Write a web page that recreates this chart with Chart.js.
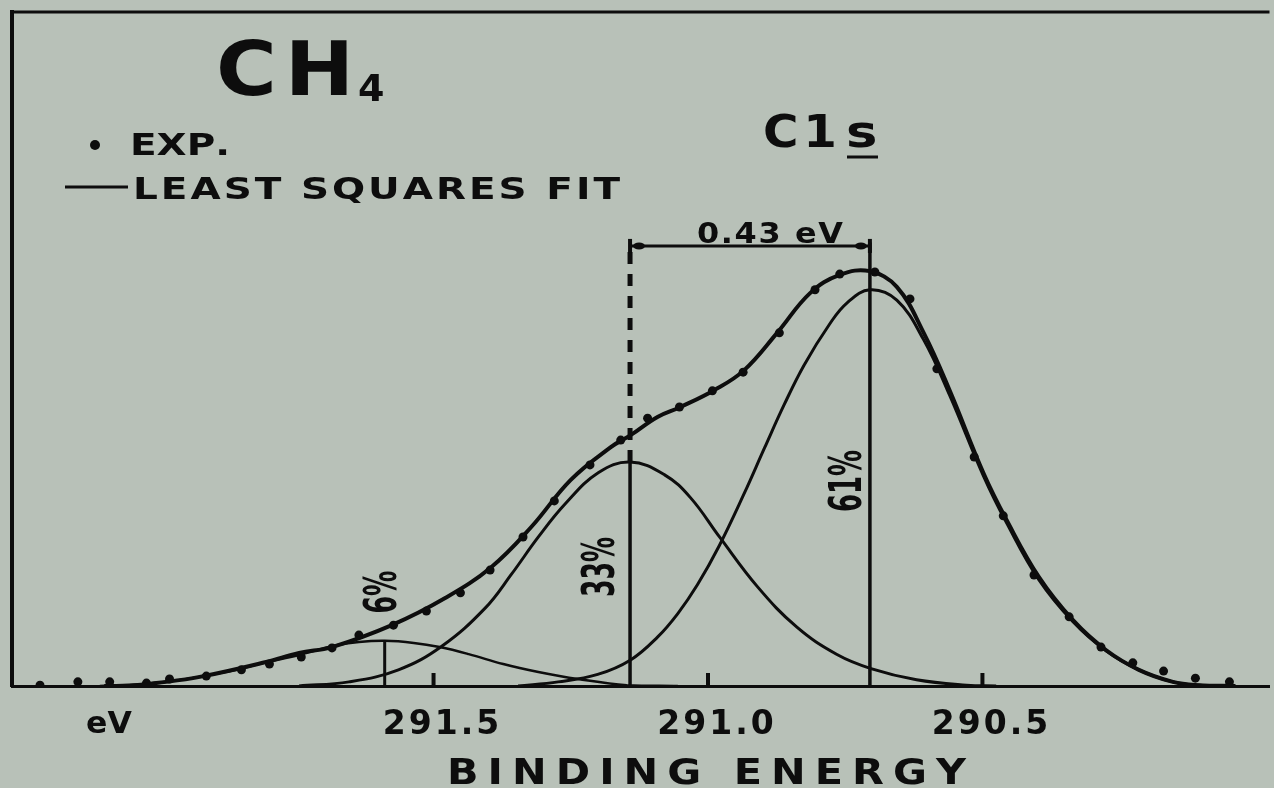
<!DOCTYPE html>
<html>
<head>
<meta charset="utf-8">
<script src="https://cdn.jsdelivr.net/npm/chart.js@4.4.1/dist/chart.umd.min.js"></script>
<style>
  html, body { margin: 0; padding: 0; background: #b8c1b8; }
  canvas { display: block; }
</style>
</head>
<body>
<canvas id="xpsChart" width="1274" height="788"></canvas>
<script>
// CH4 C1s photoelectron spectrum
// energies in eV, intensities relative to the top of the envelope (= 100)

var xTicks = [291.5, 291.0, 290.5];

// experimental points
var expEnergy = [292.217, 292.148, 292.090, 292.023, 291.981, 291.914, 291.850, 291.799,
  291.741, 291.685, 291.636, 291.573, 291.513, 291.451, 291.397, 291.337, 291.280,
  291.215, 291.159, 291.110, 291.052, 290.992, 290.936, 290.870, 290.805, 290.760,
  290.696, 290.632, 290.583, 290.515, 290.462, 290.406, 290.342, 290.284, 290.226,
  290.170, 290.112, 290.050];
var expCounts = [0.2, 1.0, 1.0, 0.7, 1.7, 2.4, 3.9, 5.3,
  7.0, 9.2, 12.3, 14.7, 18.1, 22.5, 28.0, 36.0, 44.7,
  53.4, 59.4, 64.7, 67.4, 71.3, 75.8, 85.3, 95.7, 99.5,
  100.0, 93.5, 76.6, 55.3, 41.1, 26.8, 16.7, 9.4, 5.6,
  3.6, 1.9, 1.0];

// least squares fit, envelope
var fitEnergy = [292.100, 292.054, 292.005, 291.926, 291.805, 291.745, 291.685, 291.576,
  291.478, 291.395, 291.322, 291.250, 291.177, 291.141, 291.092, 291.050, 290.988,
  290.934, 290.874, 290.814, 290.760, 290.705, 290.656, 290.607, 290.560, 290.498,
  290.456, 290.397, 290.335, 290.275, 290.215, 290.153, 290.106, 290.039];
var fitCounts = [0, 0, 0.7, 2.2, 5.8, 8.0, 9.4, 14.7,
  21.3, 28.7, 38.4, 49.8, 57.7, 60.6, 65.0, 67.4, 71.5,
  76.3, 85.3, 94.9, 99.3, 100.2, 96.4, 85.3, 71.5, 51.4,
  40.1, 26.3, 15.9, 8.7, 3.9, 1.0, 0.2, 0];

// fit components
var p61Energy = [291.346, 291.273, 291.201, 291.141, 291.092, 291.055, 291.019, 290.979,
  290.934, 290.897, 290.861, 290.825, 290.778, 290.747, 290.705, 290.656, 290.607,
  290.560, 290.498, 290.456, 290.397, 290.335, 290.275, 290.215, 290.153, 290.093];
var p61Counts = [0, 1.0, 2.8, 6.3, 11.8, 17.5, 24.5, 34.0,
  46.5, 57.5, 68.0, 77.5, 87.5, 92.5, 95.7, 93.2, 83.6,
  70.3, 50.7, 39.4, 25.6, 15.5, 8.5, 3.9, 1.0, 0];

var p33Energy = [291.745, 291.654, 291.564, 291.485, 291.406, 291.358, 291.309, 291.260,
  291.200, 291.142, 291.079, 291.032, 290.979, 290.910, 290.838, 290.765, 290.703,
  290.620, 290.529, 290.475];
var p33Counts = [0, 1.0, 3.9, 9.6, 18.8, 27.0, 36.0, 44.0,
  51.5, 54.1, 51.0, 45.5, 36.0, 24.0, 14.2, 7.6, 4.2,
  1.5, 0.2, 0];

var p6Energy = [292.108, 291.994, 291.874, 291.809, 291.745, 291.681, 291.636, 291.589,
  291.536, 291.489, 291.436, 291.373, 291.309, 291.237, 291.148, 291.055];
var p6Counts = [0, 0.9, 3.5, 5.6, 7.5, 9.7, 10.6, 10.9,
  10.4, 9.4, 7.7, 5.3, 3.4, 1.7, 0.2, 0];

// peak markers: 6 %, 33 %, 61 %
var peakEnergy = [291.589, 291.142, 290.705];
var peakHeight = [10.9, 54.1, 95.7];
var peakLabel = ['6%', '33%', '61%'];
var splitLevel = 106.3;   // height of the 0.43 eV bracket

var ink = '#0d0d0d';
var paper = '#b8c1b8';

function xy(xs, ys) {
  return xs.map(function (x, i) { return { x: x, y: ys[i] }; });
}

// text stretched by `stretch` and spread so it spans `width`
function fitText(ctx, text, left, base, width, stretch) {
  var chars = text.split('');
  var natural = 0;
  chars.forEach(function (c) { natural += ctx.measureText(c).width; });
  var gap = chars.length > 1 ? (width - natural * stretch) / (chars.length - 1) : 0;
  ctx.save();
  ctx.translate(left, base);
  ctx.scale(stretch, 1);
  ctx.textAlign = 'left';
  ctx.textBaseline = 'alphabetic';
  var x = 0;
  chars.forEach(function (c) {
    ctx.fillText(c, x, 0);
    x += ctx.measureText(c).width + gap / stretch;
  });
  ctx.restore();
}

// vertical label, squeezed to a given length
function upLabel(ctx, text, cx, cy, len) {
  ctx.save();
  ctx.translate(cx, cy);
  ctx.rotate(-Math.PI / 2);
  var w = ctx.measureText(text).width;
  ctx.scale(len / w, 1);
  ctx.textAlign = 'center';
  ctx.textBaseline = 'middle';
  ctx.fillText(text, 0, 0);
  ctx.restore();
}

var paperPlugin = {
  id: 'paper',
  beforeDraw: function (chart) {
    var ctx = chart.ctx;
    ctx.save();
    ctx.fillStyle = paper;
    ctx.fillRect(0, 0, chart.width, chart.height);
    ctx.restore();
    ctx.letterSpacing = '3px';   // wide tick numbers like the scan
  },
  beforeDatasetsDraw: function (chart) {
    chart.ctx.letterSpacing = '0px';
  },
  afterDraw: function (chart) {
    var ctx = chart.ctx, xs = chart.scales.x, ys = chart.scales.y, a = chart.chartArea;
    ctx.save();
    ctx.fillStyle = ink;
    ctx.strokeStyle = ink;
    ctx.lineCap = 'butt';

    // top frame
    ctx.lineWidth = 3;
    ctx.beginPath();
    ctx.moveTo(a.left - 2, a.top);
    ctx.lineTo(a.right, a.top);
    ctx.stroke();

    // inward tick marks
    ctx.lineWidth = 4;
    xs.ticks.forEach(function (t) {
      var px = xs.getPixelForValue(t.value);
      ctx.beginPath();
      ctx.moveTo(px, a.bottom);
      ctx.lineTo(px, a.bottom - 13);
      ctx.stroke();
    });

    // ends of the 0.43 eV bracket
    var by = ys.getPixelForValue(splitLevel);
    [peakEnergy[1], peakEnergy[2]].forEach(function (e, k) {
      var px = xs.getPixelForValue(e);
      ctx.lineWidth = 4;
      ctx.beginPath();
      ctx.moveTo(px, by - 7);
      ctx.lineTo(px, by + 7);
      ctx.stroke();
      ctx.beginPath();
      ctx.ellipse(px + (k ? -9 : 9), by, 6, 3.5, 0, 0, 2 * Math.PI);
      ctx.fill();
    });

    // title
    ctx.font = 'bold 74px "DejaVu Sans"';
    fitText(ctx, 'CH', 216, 95, 138, 1.12);
    ctx.font = 'bold 38px "DejaVu Sans"';
    fitText(ctx, '4', 358, 101, 28, 1.0);

    // legend
    ctx.beginPath();
    ctx.arc(95, 145, 5, 0, 2 * Math.PI);
    ctx.fill();
    ctx.font = 'bold 30px "DejaVu Sans"';
    fitText(ctx, 'EXP.', 130, 155, 100, 1.3);
    ctx.lineWidth = 3;
    ctx.beginPath();
    ctx.moveTo(65, 187);
    ctx.lineTo(128, 187);
    ctx.stroke();
    fitText(ctx, 'LEAST SQUARES FIT', 133, 199, 487, 1.3);

    // C1s
    ctx.font = 'bold 44px "DejaVu Sans"';
    fitText(ctx, 'C1', 763, 147, 74, 1.1);
    fitText(ctx, 's', 846, 147, 34, 1.2);
    ctx.lineWidth = 3;
    ctx.beginPath();
    ctx.moveTo(847, 157);
    ctx.lineTo(878, 157);
    ctx.stroke();

    // splitting
    ctx.font = 'bold 29px "DejaVu Sans"';
    fitText(ctx, '0.43 eV', 697, 243, 146, 1.1);

    // peak percentages
    ctx.font = 'bold 44px "DejaVu Sans"';
    var x6 = xs.getPixelForValue(peakEnergy[0]);
    var x33 = xs.getPixelForValue(peakEnergy[1]);
    var x61 = xs.getPixelForValue(peakEnergy[2]);
    upLabel(ctx, peakLabel[0], x6, 592, 43);
    upLabel(ctx, peakLabel[1], x33 - 27, 567, 60);
    upLabel(ctx, peakLabel[2], x61 - 20, 481, 62);

    // axis words
    ctx.font = 'bold 30px "DejaVu Sans"';
    fitText(ctx, 'eV', 86, 733, 46, 1.05);
    ctx.font = 'bold 36px "DejaVu Sans"';
    fitText(ctx, 'BINDING ENERGY', 447, 784, 519, 1.15);

    ctx.restore();
  }
};

function lineSet(xs, ys, width) {
  return {
    data: xy(xs, ys),
    borderColor: ink,
    borderWidth: width,
    pointRadius: 0,
    fill: false,
    tension: 0.4
  };
}

function stick(e, y0, y1, width, dash) {
  return {
    data: [{ x: e, y: y0 }, { x: e, y: y1 }],
    borderColor: ink,
    borderWidth: width,
    borderDash: dash || [],
    pointRadius: 0,
    fill: false
  };
}

var ctx = document.getElementById('xpsChart').getContext('2d');
var chart = new Chart(ctx, {
  type: 'line',
  data: {
    datasets: [
      lineSet(fitEnergy, fitCounts, 4),
      lineSet(p61Energy, p61Counts, 3),
      lineSet(p33Energy, p33Counts, 3),
      lineSet(p6Energy, p6Counts, 2.5),
      stick(peakEnergy[0], 0, peakHeight[0], 3),
      stick(peakEnergy[1], 0, peakHeight[1], 3.5),
      stick(peakEnergy[1], peakHeight[1], splitLevel, 5, [12, 10]),
      stick(peakEnergy[2], 0, splitLevel + 0.8, 3.5),
      {
        data: [{ x: peakEnergy[1], y: splitLevel }, { x: peakEnergy[2], y: splitLevel }],
        borderColor: ink,
        borderWidth: 3,
        pointRadius: 0,
        fill: false
      },
      {
        data: xy(expEnergy, expCounts),
        showLine: false,
        pointRadius: 4.5,
        pointBackgroundColor: ink,
        pointBorderWidth: 0
      }
    ]
  },
  options: {
    responsive: false,
    devicePixelRatio: 1,
    animation: false,
    layout: { padding: { top: 12, left: 0, right: 0, bottom: 0 } },
    plugins: {
      legend: { display: false },
      tooltip: { enabled: false }
    },
    scales: {
      x: {
        type: 'linear',
        reverse: true,
        min: 289.977,
        max: 292.268,
        afterBuildTicks: function (scale) {
          scale.ticks = xTicks.map(function (v) { return { value: v }; });
        },
        afterFit: function (scale) { scale.height = 102; },
        grid: { display: false, drawTicks: false },
        border: { display: true, color: ink, width: 3 },
        ticks: {
          color: ink,
          padding: 20,
          labelOffset: 9,
          maxRotation: 0,
          font: { family: 'DejaVu Sans', size: 33, weight: 'bold' },
          callback: function (v) { return Number(v).toFixed(1); }
        }
      },
      y: {
        min: 0,
        max: 162.8,
        afterFit: function (scale) { scale.width = 12; },
        grid: { display: false, drawTicks: false },
        border: { display: true, color: ink, width: 4 },
        ticks: { display: false }
      }
    }
  },
  plugins: [paperPlugin]
});
</script>
</body>
</html>
